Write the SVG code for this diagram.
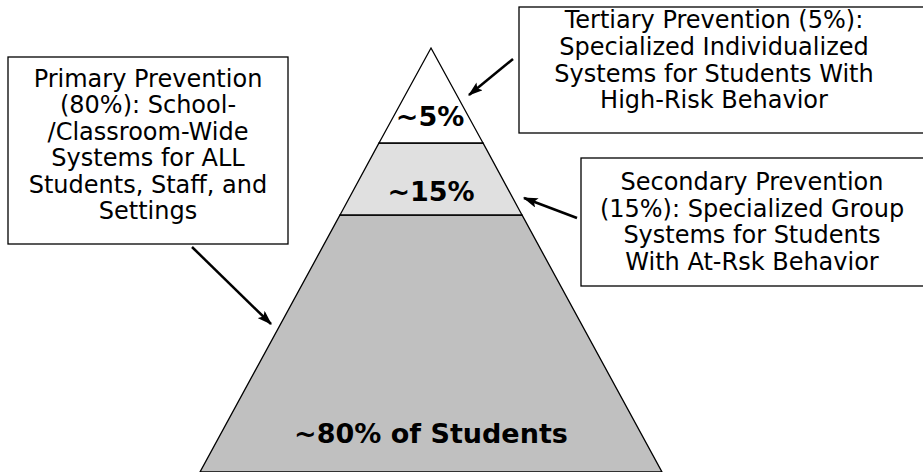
<svg xmlns="http://www.w3.org/2000/svg" width="923" height="472" viewBox="0 0 923 472">
<style>
.box{fill:#fff;stroke:#000;stroke-width:1.3}
.t{font-family:"DejaVu Sans",Verdana,sans-serif;font-size:24px;text-anchor:middle;fill:#000}
.b{font-family:"DejaVu Sans",Verdana,sans-serif;font-size:27px;font-weight:bold;text-anchor:middle;fill:#000}
.tier{stroke:#000;stroke-width:1.3}
.arr{stroke:#000;stroke-width:2.5;fill:none;marker-end:url(#ah)}
</style>
<defs>
<marker id="ah" viewBox="0 0 12 8" refX="11" refY="4" markerWidth="6" markerHeight="4" orient="auto" markerUnits="strokeWidth">
<path d="M0,0 L12,4 L0,8 L2.5,4 Z" fill="#000"/>
</marker>
</defs>
<rect width="923" height="472" fill="#fff"/>
<g id="pyramid">
<g id="tier-bottom">
<polygon class="tier" points="340,215 522,215 662,472 200,472" fill="#c0c0c0"/>
<text class="b" x="431" y="443">~80% of Students</text>
</g>
<g id="tier-middle">
<polygon class="tier" points="379,143 483,143 522,215 340,215" fill="#e0e0e0"/>
<text class="b" x="431" y="201">~15%</text>
</g>
<g id="tier-top">
<polygon class="tier" points="431,48 483,143 379,143" fill="#fff"/>
<text class="b" x="430" y="126">~5%</text>
</g>
</g>
<g id="primary">
<rect class="box" x="8" y="57" width="280" height="187"/>
<text class="t" x="148" y="86.5">Primary Prevention</text>
<text class="t" x="148" y="113">(80%): School-</text>
<text class="t" x="148" y="139.5">/Classroom-Wide</text>
<text class="t" x="148" y="166">Systems for ALL</text>
<text class="t" x="148" y="192.5">Students, Staff, and</text>
<text class="t" x="148" y="219">Settings</text>
</g>
<g id="tertiary">
<rect class="box" x="519" y="7" width="410" height="126"/>
<text class="t" x="714" y="28">Tertiary Prevention (5%):</text>
<text class="t" x="714" y="55">Specialized Individualized</text>
<text class="t" x="714" y="82">Systems for Students With</text>
<text class="t" x="714" y="108">High-Risk Behavior</text>
</g>
<g id="secondary">
<rect class="box" x="581" y="158" width="350" height="128"/>
<text class="t" x="752" y="190">Secondary Prevention</text>
<text class="t" x="752" y="217">(15%): Specialized Group</text>
<text class="t" x="752" y="243">Systems for Students</text>
<text class="t" x="752" y="270">With At-Rsk Behavior</text>
</g>
<g id="connectors">
<line class="arr" x1="192" y1="247" x2="271" y2="324"/>
<line class="arr" x1="513" y1="59" x2="469" y2="95"/>
<line class="arr" x1="577" y1="218" x2="524" y2="198"/>
</g>
</svg>
